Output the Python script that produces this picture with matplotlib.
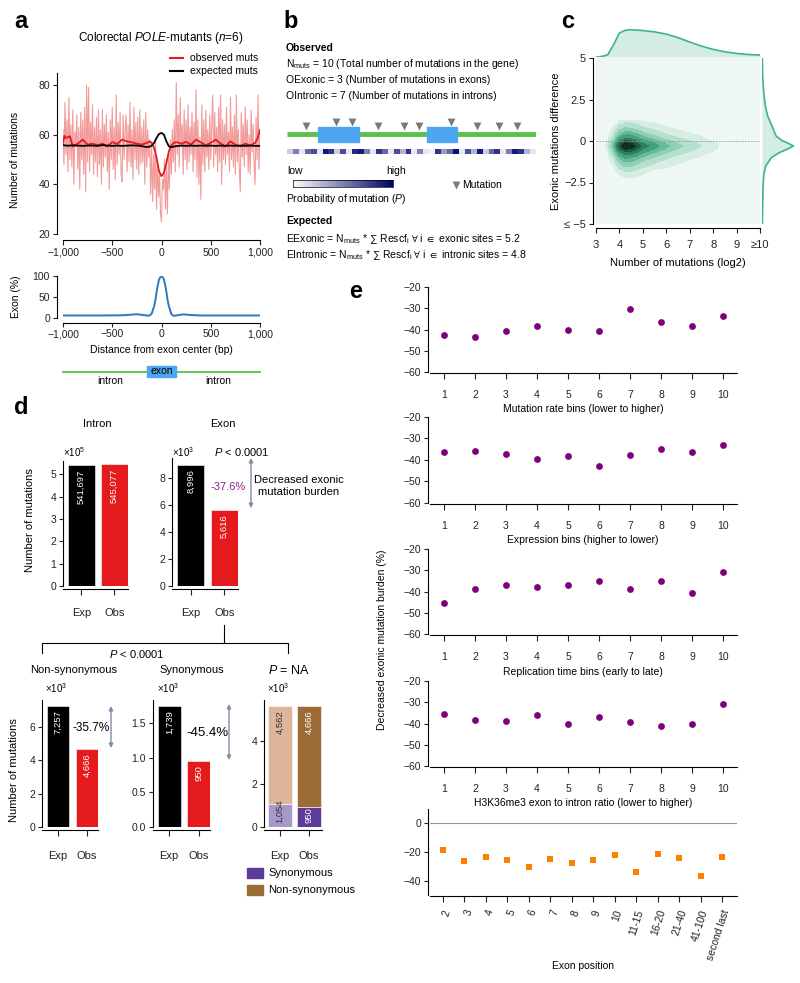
import numpy as np
import matplotlib
matplotlib.use("Agg")
import matplotlib.pyplot as plt
from matplotlib.colors import LinearSegmentedColormap
from matplotlib.patches import Rectangle

plt.rcParams.update({
    'font.family': ['Liberation Sans', 'DejaVu Sans'],
    'font.size': 7.5,
    'mathtext.fontset': 'custom',
    'mathtext.rm': 'Liberation Sans',
    'mathtext.it': 'Liberation Sans:italic',
    'mathtext.bf': 'Liberation Sans:bold',
    'mathtext.fallback': 'stixsans',
    'axes.linewidth': 0.8,
    'xtick.major.width': 0.8,
    'ytick.major.width': 0.8,
    'xtick.major.size': 3.5,
    'ytick.major.size': 3,
    'xtick.color': '#222222',
    'ytick.color': '#222222',
})

# ---------------- data ----------------
# panel a: per-position mutation counts (-1000..1000, step 10)
obs_raw = [
    62, 48, 73, 52, 66, 45, 75, 50, 64, 47, 70, 40, 61, 55, 68, 46, 63, 38, 69, 50,
    66, 44, 71, 37, 80, 49, 79, 45, 65, 52, 72, 44, 63, 49, 67, 43, 70, 48, 62, 40,
    70, 47, 64, 51, 68, 45, 61, 38, 66, 50, 71, 46, 63, 42, 76, 48, 65, 52, 69, 44,
    41, 68, 50, 62, 68, 45, 64, 49, 73, 47, 62, 42, 71, 50, 65, 46, 67, 44, 70, 48,
    63, 49, 66, 40, 69, 47, 62, 51, 58, 36, 55, 33, 52, 38, 57, 30, 48, 35, 45, 28,
    25, 42, 38, 50, 30, 47, 28, 52, 38, 58, 44, 62, 49, 66, 45, 81, 52, 68, 47, 75,
    55, 64, 44, 70, 50, 66, 46, 72, 49, 63, 52, 69, 45, 65, 50, 78, 43, 66, 40, 59,
    34, 72, 48, 66, 45, 70, 51, 62, 46, 68, 50, 64, 76, 47, 69, 52, 63, 45, 71, 49,
    76, 40, 66, 50, 64, 48, 71, 52, 61, 45, 75, 50, 63, 47, 68, 44, 76, 49, 62, 46,
    37, 69, 51, 64, 47, 71, 52, 66, 45, 60, 44, 70, 53, 64, 48, 40, 67, 50, 76, 46,
    62]
raw_pos = np.arange(-1000, 1001, 10)

smooth_pos = [-1000, -985, -970, -930, -900, -850, -800, -750, -700, -650, -600, -550,
              -500, -450, -400, -350, -300, -250, -200, -150, -120, -100, -75, -50,
              -25, 0, 25, 50, 75, 100, 125, 150, 200, 250, 300, 350, 400, 450, 500,
              550, 600, 650, 700, 750, 800, 850, 900, 950, 975, 1000]
obs_smooth = [56.7, 59.5, 58.7, 59.3, 55.3, 56.4, 58.0, 56.0, 56.4, 55.7, 56.4, 55.3,
              57.0, 56.3, 58.0, 57.3, 56.9, 56.4, 56.0, 56.7, 57.3, 56.7, 54.7, 50.7,
              45.3, 43.3, 44.7, 48.7, 53.3, 55.7, 56.7, 57.0, 56.4, 57.1, 56.0, 58.0,
              56.9, 55.7, 56.7, 58.0, 56.4, 55.3, 57.3, 56.0, 55.3, 56.4, 55.6, 56.7,
              58.4, 62.0]
exp_smooth = [55.8, 55.7, 55.6, 55.6, 55.7, 55.6, 55.5, 55.6, 55.6, 55.5, 55.8, 55.6,
              55.5, 55.6, 55.5, 55.6, 55.7, 55.6, 55.4, 55.0, 55.2, 55.6, 56.7, 58.7,
              60.3, 60.7, 60.0, 57.3, 55.3, 55.0, 55.2, 55.4, 55.6, 55.5, 55.6, 55.5,
              55.6, 55.5, 55.6, 55.5, 55.6, 55.5, 55.6, 55.5, 55.6, 55.5, 55.6, 55.5,
              55.5, 55.5]

exon_pos = [-1000, -800, -600, -400, -300, -250, -200, -150, -125, -100, -75, -60, -50,
            -40, -25, -10, 0, 10, 25, 40, 50, 60, 75, 100, 125, 150, 200, 230, 300,
            400, 600, 800, 1000]
exon_pct = [6, 6, 6, 6.5, 8, 9, 7.5, 6, 5.5, 10, 28, 45, 62, 75, 92, 98, 100, 98, 92,
            75, 62, 45, 28, 9, 5, 6, 8, 8.5, 7, 6, 6, 6, 6]

# panel b: schematic gene (0..100 units)
gene_exons = [(12.4, 28.9), (56.2, 68.3)]
mut_positions = [7.6, 19.7, 26.1, 36.5, 47.0, 53.0, 65.9, 76.3, 85.1, 92.4]
mut_probability = [0.2, 0.5, 0.1, 0.6, 0.7, 0.1, 0.9, 0.8, 0.2, 0.7, 0.1, 0.85, 0.9, 0.5,
                   0.1, 0.8, 0.6, 0.1, 0.7, 0.3, 0.8, 0.1, 0.5, 0.1, 0.05, 0.8, 0.4, 0.6,
                   0.95, 0.1, 0.7, 0.3, 0.9, 0.2, 0.6, 0.8, 0.1, 0.5, 0.9, 0.8, 0.3, 0.1]

# panel c: density
kde_x = [3.25, 3.5, 3.75, 4.0, 4.25, 4.5, 4.75, 5.0, 5.5, 6.0, 6.5, 7.0, 7.5, 8.0, 8.5]
kde_y = [-2.25, -1.75, -1.25, -1.0, -0.75, -0.5, -0.3, -0.1, 0.1, 0.4, 0.75, 1.25]
kde_density = [
    [0, 0.00, 0.00, 0.01, 0.02, 0.02, 0.02, 0.01, 0.01, 0.00, 0.00, 0.00, 0.00, 0.00, 0],
    [0, 0.00, 0.01, 0.05, 0.07, 0.07, 0.05, 0.04, 0.02, 0.02, 0.01, 0.01, 0.00, 0.00, 0],
    [0, 0.01, 0.04, 0.14, 0.20, 0.19, 0.15, 0.11, 0.07, 0.04, 0.03, 0.02, 0.01, 0.01, 0],
    [0, 0.01, 0.06, 0.22, 0.32, 0.30, 0.24, 0.18, 0.11, 0.07, 0.04, 0.03, 0.02, 0.01, 0],
    [0, 0.02, 0.10, 0.35, 0.50, 0.48, 0.38, 0.28, 0.18, 0.11, 0.07, 0.05, 0.03, 0.02, 0.01],
    [0, 0.03, 0.16, 0.56, 0.80, 0.76, 0.60, 0.44, 0.28, 0.18, 0.11, 0.07, 0.05, 0.03, 0.01],
    [0, 0.04, 0.20, 0.70, 1.00, 0.95, 0.75, 0.55, 0.35, 0.22, 0.14, 0.09, 0.06, 0.04, 0.01],
    [0, 0.03, 0.16, 0.56, 0.80, 0.76, 0.60, 0.44, 0.28, 0.18, 0.11, 0.07, 0.05, 0.03, 0.01],
    [0, 0.02, 0.10, 0.35, 0.50, 0.48, 0.38, 0.28, 0.18, 0.11, 0.07, 0.05, 0.03, 0.02, 0.01],
    [0, 0.01, 0.06, 0.20, 0.28, 0.27, 0.21, 0.15, 0.10, 0.06, 0.04, 0.03, 0.02, 0.01, 0],
    [0, 0.01, 0.03, 0.09, 0.13, 0.12, 0.10, 0.07, 0.05, 0.03, 0.02, 0.01, 0.01, 0.01, 0],
    [0, 0.00, 0.01, 0.02, 0.03, 0.03, 0.02, 0.02, 0.01, 0.01, 0.00, 0.00, 0.00, 0.00, 0],
]
kde_levels = [0.025, 0.06, 0.12, 0.2, 0.3, 0.45, 0.62, 0.8, 1.1]
top_x = [3.0, 3.25, 3.5, 3.75, 4.0, 4.25, 4.5, 5.0, 5.5, 6.0, 6.5, 7.0, 7.5, 8.0, 8.5,
         9.0, 9.5, 10.0]
top_dens = [0.0, 0.02, 0.08, 0.45, 0.88, 0.98, 1.0, 0.97, 0.92, 0.84, 0.71, 0.55, 0.40,
            0.28, 0.19, 0.13, 0.09, 0.07]
right_y = [-5, -4, -3, -2.5, -2, -1.5, -1.0, -0.7, -0.5, -0.3, -0.1, 0.0, 0.3, 0.6, 0.9,
           1.2, 1.5, 2.0, 2.5, 3, 4, 5]
right_dens = [0.01, 0.02, 0.03, 0.04, 0.06, 0.12, 0.3, 0.55, 0.8, 1.0, 0.8, 0.66, 0.45,
              0.38, 0.32, 0.25, 0.18, 0.12, 0.08, 0.05, 0.02, 0.01]

# panel d
cats = ['Exp', 'Obs']
intron_counts = [541697, 545077]
exon_counts = [8996, 5616]
nonsyn_counts = [7257, 4666]
syn_counts = [1739, 950]
stack_syn = [1054, 950]
stack_nonsyn = [4562, 4666]

# panel e
bins = list(range(1, 11))
mut_rate_bins = [-42.5, -43.5, -40.5, -38.5, -40.3, -40.8, -30.5, -36.5, -38.5, -33.5]
expression_bins = [-36.5, -35.8, -37.0, -39.5, -38.3, -43.0, -37.8, -35.0, -36.3, -33.2]
replication_bins = [-45.3, -38.8, -36.9, -38.1, -37.0, -35.0, -39.0, -35.0, -40.7, -31.0]
h3k36_bins = [-35.3, -38.5, -38.8, -36.0, -40.3, -37.0, -39.5, -41.3, -40.3, -31.0]
exon_position_labels = ['2', '3', '4', '5', '6', '7', '8', '9', '10', '11-15', '16-20',
                        '21-40', '41-100', 'second last']
exon_position_vals = [-18.6, -26.1, -23.5, -25.9, -30.6, -25.2, -27.5, -25.9, -22.1,
                      -33.9, -21.6, -24.5, -36.5, -23.5]

# ---------------- layout helpers ----------------
W, H = 800, 983
fig = plt.figure(figsize=(W / 100, H / 100), dpi=100)


def add_ax(l, t, r, b):
    return fig.add_axes([l / W, 1 - b / H, (r - l) / W, (b - t) / H])


def ftext(x, y, s, **kw):
    kw.setdefault('va', 'center')
    kw.setdefault('ha', 'left')
    return fig.text(x / W, 1 - y / H, s, **kw)


def style(ax, left=0, bottom=0):
    for s in ['top', 'right']:
        ax.spines[s].set_visible(False)
    ax.spines['left'].set_position(('outward', left * 0.72))
    ax.spines['bottom'].set_position(('outward', bottom * 0.72))


RED = '#e41a1c'
ARROW = '#7d8da4'
MINUS = '\u2212'

# ---------------- panel a ----------------
ftext(14, 22, 'a', fontsize=17, weight='bold')
ftext(161, 38, r'Colorectal $\mathit{POLE}$-mutants ($\mathit{n}$=6)', ha='center',
      fontsize=8.5)

ax = add_ax(63, 72.6, 260, 234)
ax.plot(raw_pos, obs_raw, color='#f39a9a', lw=0.8)
ax.plot(smooth_pos, obs_smooth, color=RED, lw=1.3)
ax.plot(smooth_pos, exp_smooth, color='black', lw=1.3)
ax.set_xlim(-1000, 1000)
ax.set_ylim(20, 85)
style(ax, 6, 6)
ax.tick_params(axis='y', pad=2)
ax.tick_params(axis='x', pad=2)
ax.set_yticks([20, 40, 60, 80])
ax.set_xticks([-1000, -500, 0, 500, 1000])
ax.set_xticklabels([MINUS + '1,000', MINUS + '500', '0', '500', '1,000'])
ax.spines['bottom'].set_bounds(-1000, 1000)
ftext(15, 160, 'Number of mutations', rotation=90, ha='center')

ax = add_ax(63, 276, 260, 318)
ax.plot(exon_pos, exon_pct, color='#2b7bbf', lw=1.4)
ax.set_xlim(-1000, 1000)
ax.set_ylim(0, 100)
style(ax, 6, 5)
ax.tick_params(axis='y', pad=2)
ax.tick_params(axis='x', pad=1.5, length=3)
ax.set_yticks([0, 50, 100])
ax.set_xticks([-1000, -500, 0, 500, 1000])
ax.set_xticklabels([MINUS + '1,000', MINUS + '500', '0', '500', '1,000'])
ax.spines['bottom'].set_bounds(-1000, 1000)
ftext(16, 297, 'Exon (%)', rotation=90, ha='center')
ftext(161, 350, 'Distance from exon center (bp)', ha='center')

# ---------------- overlay for schematics ----------------
ov = fig.add_axes([0, 0, 1, 1], zorder=5)
ov.set_xlim(0, W)
ov.set_ylim(H, 0)
ov.axis('off')

# legend a
ov.plot([170, 183], [58, 58], color=RED, lw=1.5)
ov.plot([170, 183], [71, 71], color='black', lw=1.5)
ftext(190, 58, 'observed muts')
ftext(190, 71, 'expected muts')

# gene diagram under a
ov.plot([63, 260], [372, 372], color='#5ac24a', lw=1.3)
ov.add_patch(Rectangle((147, 366), 29, 11, color='#4da6f0', zorder=6))
ov.text(161.5, 371.5, 'exon', ha='center', va='center', fontsize=7.5, zorder=7)
ov.text(110, 381, 'intron', ha='center', va='center', fontsize=7.5)
ov.text(218, 381, 'intron', ha='center', va='center', fontsize=7.5)

# ---------------- panel b ----------------
ftext(283, 22, 'b', fontsize=17, weight='bold')
ftext(286, 48, 'Observed', weight='bold')
ftext(286, 64, r'N$_{\mathrm{muts}}$ = 10 (Total number of mutations in the gene)')
ftext(286, 80, 'OExonic = 3 (Number of mutations in exons)')
ftext(286, 96, 'OIntronic = 7 (Number of mutations in introns)')

axg = add_ax(287, 112, 536, 157)
axg.axis('off')
axg.plot([0, 100], [134, 134], color='#5ac24a', lw=3.5, solid_capstyle='butt')
for s, e in gene_exons:
    axg.add_patch(Rectangle((s, 127), e - s, 15, color='#4da6f0', zorder=3))
in_exon = [any(s <= m <= e for s, e in gene_exons) for m in mut_positions]
axg.scatter(mut_positions, [122 if f else 126 for f in in_exon], marker='v', s=32,
            color='#7a7a7a', zorder=4, linewidths=0)
prob_cmap = LinearSegmentedColormap.from_list('prob', ['#ffffff', '#00006e'])
axg.imshow([mut_probability], cmap=prob_cmap, aspect='auto', extent=(0, 100, 154, 149),
           vmin=0, vmax=1)
axg.set_xlim(0, 100)
axg.set_ylim(157, 112)

ftext(287, 171, 'low')
ftext(386, 171, 'high')
axcb = add_ax(293, 180, 393, 187)
axcb.imshow([np.linspace(0, 1, 256)], cmap=prob_cmap, aspect='auto')
axcb.set_xticks([])
axcb.set_yticks([])
for s in axcb.spines.values():
    s.set_linewidth(0.5)
ov.scatter([456], [185], marker='v', s=32, color='#7a7a7a', linewidths=0)
ftext(462, 185, 'Mutation')
ftext(286, 199, r'Probability of mutation ($\mathit{P}$)')
ftext(286, 221, 'Expected', weight='bold')
ftext(286, 239, r'EExonic = N$_{\mathrm{muts}}$ * $\sum$ Rescf$_{\mathrm{i}}$ $\forall$ i $\in$ exonic sites = 5.2')
ftext(286, 255, r'EIntronic = N$_{\mathrm{muts}}$ * $\sum$ Rescf$_{\mathrm{i}}$ $\forall$ i $\in$ intronic sites = 4.8')

# ---------------- panel c ----------------
ftext(561, 22, 'c', fontsize=17, weight='bold')
GREEN_LINE = '#3db489'
GREEN_FILL = '#d4ede3'
axc = add_ax(596, 58, 760, 224)
axc.set_facecolor('#eef7f3')
level_colors = ['#d5ede3', '#b5e0cd', '#8fcfb2', '#66bb96', '#43a07b', '#2d7f5f',
                '#1e5a43', '#112e23']
axc.contourf(kde_x, kde_y, np.array(kde_density), levels=kde_levels, colors=level_colors)
axc.axhline(0, color='#999999', lw=0.6, ls='--', dashes=(2, 1.5))
axc.set_xlim(3, 10)
axc.set_ylim(-5, 5)
style(axc, 3, 4)
axc.tick_params(axis='x', pad=5)
axc.tick_params(axis='y', pad=2)
axc.set_xticks(range(3, 11))
axc.set_xticklabels(['3', '4', '5', '6', '7', '8', '9', '\u226510'], fontsize=8)
axc.set_yticks([-5, -2.5, 0, 2.5, 5])
axc.set_yticklabels(['\u2264 ' + MINUS + '5', MINUS + '2.5', '0', '2.5', '5'], fontsize=8)
ftext(678, 263, 'Number of mutations (log2)', ha='center', fontsize=8)
ftext(556, 141, 'Exonic mutations difference', rotation=90, ha='center', fontsize=8)

axt = add_ax(596, 27, 760, 57)
axt.fill_between(top_x, top_dens, color=GREEN_FILL, lw=0)
axt.plot(top_x, top_dens, color=GREEN_LINE, lw=1.2)
axt.set_xlim(3, 10)
axt.set_ylim(0, 1.1)
axt.axis('off')

axr = add_ax(762, 58, 795, 224)
axr.fill_betweenx(right_y, right_dens, color=GREEN_FILL, lw=0)
axr.plot(right_dens, right_y, color=GREEN_LINE, lw=1.2)
axr.set_ylim(-5, 5)
axr.set_xlim(0, 1.05)
axr.axis('off')

# ---------------- panel d ----------------
ftext(14, 408, 'd', fontsize=17, weight='bold')
ftext(97, 424, 'Intron', ha='center', fontsize=8)
ftext(223, 424, 'Exon', ha='center', fontsize=8)


def bar_panel(rect, vals, ylim, yticks, yticklabels, labels, colors, xlim=(-0.56, 1.41),
              width=0.82, pad=10):
    a = add_ax(*rect)
    a.bar([0, 1], vals, width=width, color=colors, edgecolor='white', lw=0.4)
    for i, (v, lab) in enumerate(zip(vals, labels)):
        a.annotate(lab, (i, v), xytext=(0, -3), textcoords='offset points', rotation=90,
                   ha='center', va='top', color='white', fontsize=6.8)
    a.set_xlim(*xlim)
    a.set_ylim(*ylim)
    style(a, 0, 3)
    a.tick_params(axis='x', pad=pad, length=4)
    a.tick_params(axis='y', pad=2)
    a.set_yticks(yticks)
    a.set_yticklabels(yticklabels)
    a.set_xticks([0, 1])
    a.set_xticklabels(cats, fontsize=8)
    return a


bar_panel((63, 461, 128, 586), [v / 1e5 for v in intron_counts], (0, 5.6), range(6),
          [str(i) for i in range(6)], [f'{v:,}' for v in intron_counts], ['black', RED])
bar_panel((172, 458, 238, 586), [v / 1e3 for v in exon_counts], (0, 9.5), [0, 2, 4, 6, 8],
          ['0', '2', '4', '6', '8'], [f'{v:,}' for v in exon_counts], ['black', RED])
ftext(63, 452, r'$\times$10$^5$', fontsize=7)
ftext(172, 452, r'$\times$10$^3$', fontsize=7)
ftext(242, 452, r'$\mathit{P}$ < 0.0001', ha='center', fontsize=8)
ov.annotate('', xy=(251, 458), xytext=(251, 508),
            arrowprops=dict(arrowstyle='<|-|>', color=ARROW, lw=1.0, mutation_scale=6,
                            shrinkA=0, shrinkB=0))
ftext(228, 487, '-37.6%', ha='center', color='#8e1f8c', fontsize=8)
ftext(299, 486, 'Decreased exonic\nmutation burden', ha='center', fontsize=8,
      linespacing=1.2)
ftext(30, 520, 'Number of mutations', rotation=90, ha='center', fontsize=8)

# bracket
ov.plot([224, 224], [625, 643], color='black', lw=0.8)
ov.plot([42, 42, 288, 288], [653, 643, 643, 653], color='black', lw=0.8)
ftext(137, 654, r'$\mathit{P}$ < 0.0001', ha='center', fontsize=8)
ftext(74, 670, 'Non-synonymous', ha='center', fontsize=8)
ftext(192, 670, 'Synonymous', ha='center', fontsize=8)
ftext(289, 670, r'$\mathit{P}$ = NA', ha='center', fontsize=9)
for x in (45, 157, 267):
    ftext(x, 688, r'$\times$10$^3$', fontsize=7)

bar_panel((42, 700, 98, 827), [v / 1e3 for v in nonsyn_counts], (0, 7.6), [0, 2, 4, 6],
          ['0', '2', '4', '6'], [f'{v:,}' for v in nonsyn_counts], ['black', RED],
          xlim=(-0.55, 1.38), width=0.76, pad=11)
bar_panel((153, 700, 210, 827), [v / 1e3 for v in syn_counts], (0, 1.83),
          [0, 0.5, 1.0, 1.5], ['0.0', '0.5', '1.0', '1.5'],
          [f'{v:,}' for v in syn_counts], ['black', RED],
          xlim=(-0.55, 1.38), width=0.78, pad=11)
ftext(91, 728, '-35.7%', ha='center', fontsize=8.5)
ftext(207, 733, '-45.4%', ha='center', fontsize=9.5)
ov.annotate('', xy=(111, 706), xytext=(111, 748),
            arrowprops=dict(arrowstyle='<|-|>', color=ARROW, lw=1.0, mutation_scale=6,
                            shrinkA=0, shrinkB=0))
ov.annotate('', xy=(229, 704), xytext=(229, 760),
            arrowprops=dict(arrowstyle='<|-|>', color=ARROW, lw=1.0, mutation_scale=6,
                            shrinkA=0, shrinkB=0))
ftext(14, 770, 'Number of mutations', rotation=90, ha='center', fontsize=8)

SYN_COLORS = ['#a898c9', '#5d3b96']
NONSYN_COLORS = ['#ddb598', '#9c6c37']
axs = add_ax(264, 700, 322, 827)
syn_k = [v / 1e3 for v in stack_syn]
non_k = [v / 1e3 for v in stack_nonsyn]
axs.bar([0, 1], syn_k, width=0.8, color=SYN_COLORS, edgecolor='white', lw=0.4)
axs.bar([0, 1], non_k, bottom=syn_k, width=0.8, color=NONSYN_COLORS, edgecolor='white',
        lw=0.4)
for i in range(2):
    tc = '#333333' if i == 0 else 'white'
    axs.annotate(f'{stack_syn[i]:,}', (i, 0), xytext=(0, 3), textcoords='offset points',
                 rotation=90, ha='center', va='bottom', color=tc, fontsize=6.8)
    axs.annotate(f'{stack_nonsyn[i]:,}', (i, syn_k[i] + non_k[i]), xytext=(0, -3),
                 textcoords='offset points', rotation=90, ha='center', va='top', color=tc,
                 fontsize=6.8)
axs.set_xlim(-0.55, 1.45)
axs.set_ylim(0, 5.9)
style(axs, 0, 3)
axs.tick_params(axis='x', pad=11, length=4)
axs.tick_params(axis='y', pad=2)
axs.set_yticks([0, 2, 4])
axs.set_xticks([0, 1])
axs.set_xticklabels(cats, fontsize=8)

ov.add_patch(Rectangle((247, 868), 16, 10, color=SYN_COLORS[1]))
ov.add_patch(Rectangle((247, 885), 16, 10, color=NONSYN_COLORS[1]))
ftext(268, 873, 'Synonymous', fontsize=8)
ftext(268, 890, 'Non-synonymous', fontsize=8)

# ---------------- panel e ----------------
ftext(349, 292, 'e', fontsize=17, weight='bold')
PURPLE = '#800080'
e_rows = [
    ((287, 372), mut_rate_bins, 'Mutation rate bins (lower to higher)', 409),
    ((417, 503), expression_bins, 'Expression bins (higher to lower)', 540),
    ((549, 634), replication_bins, 'Replication time bins (early to late)', 672),
    ((681, 766), h3k36_bins, 'H3K36me3 exon to intron ratio (lower to higher)', 803),
]
for (t, b), vals, lab, ly in e_rows:
    a = add_ax(430, t, 737, b)
    a.scatter(bins, vals, s=24, color=PURPLE, zorder=3, linewidths=0)
    a.set_xlim(0.55, 10.45)
    a.set_ylim(-60, -20)
    style(a, 2, 1)
    a.tick_params(axis='x', pad=8, length=4)
    a.tick_params(axis='y', pad=2)
    a.set_yticks([-60, -50, -40, -30, -20])
    a.set_yticklabels([MINUS + '60', MINUS + '50', MINUS + '40', MINUS + '30', MINUS + '20'])
    a.set_xticks(bins)
    ftext(583, ly, lab, ha='center')

a = add_ax(430, 809, 737, 895)
a.axhline(0, color='#999999', lw=0.8)
a.scatter(range(len(exon_position_vals)), exon_position_vals, marker='s', s=19,
          color='#ff7f00', zorder=3, linewidths=0)
a.set_xlim(-0.6, 13.7)
a.set_ylim(-50, 10)
style(a, 2, 1)
a.tick_params(axis='x', pad=5, length=4)
a.tick_params(axis='y', pad=2)
a.set_yticks([-40, -20, 0])
a.set_yticklabels([MINUS + '40', MINUS + '20', '0'])
a.set_xticks(range(len(exon_position_labels)))
a.set_xticklabels(exon_position_labels)
for lbl in a.get_xticklabels():
    lbl.set_rotation(72)
    lbl.set_ha('right')
    lbl.set_va('top')
    lbl.set_rotation_mode('anchor')
ftext(583, 966, 'Exon position', ha='center')
ftext(382, 640, 'Decreased exonic mutation burden (%)', rotation=90, ha='center')

fig.savefig('out.png', dpi=100)
